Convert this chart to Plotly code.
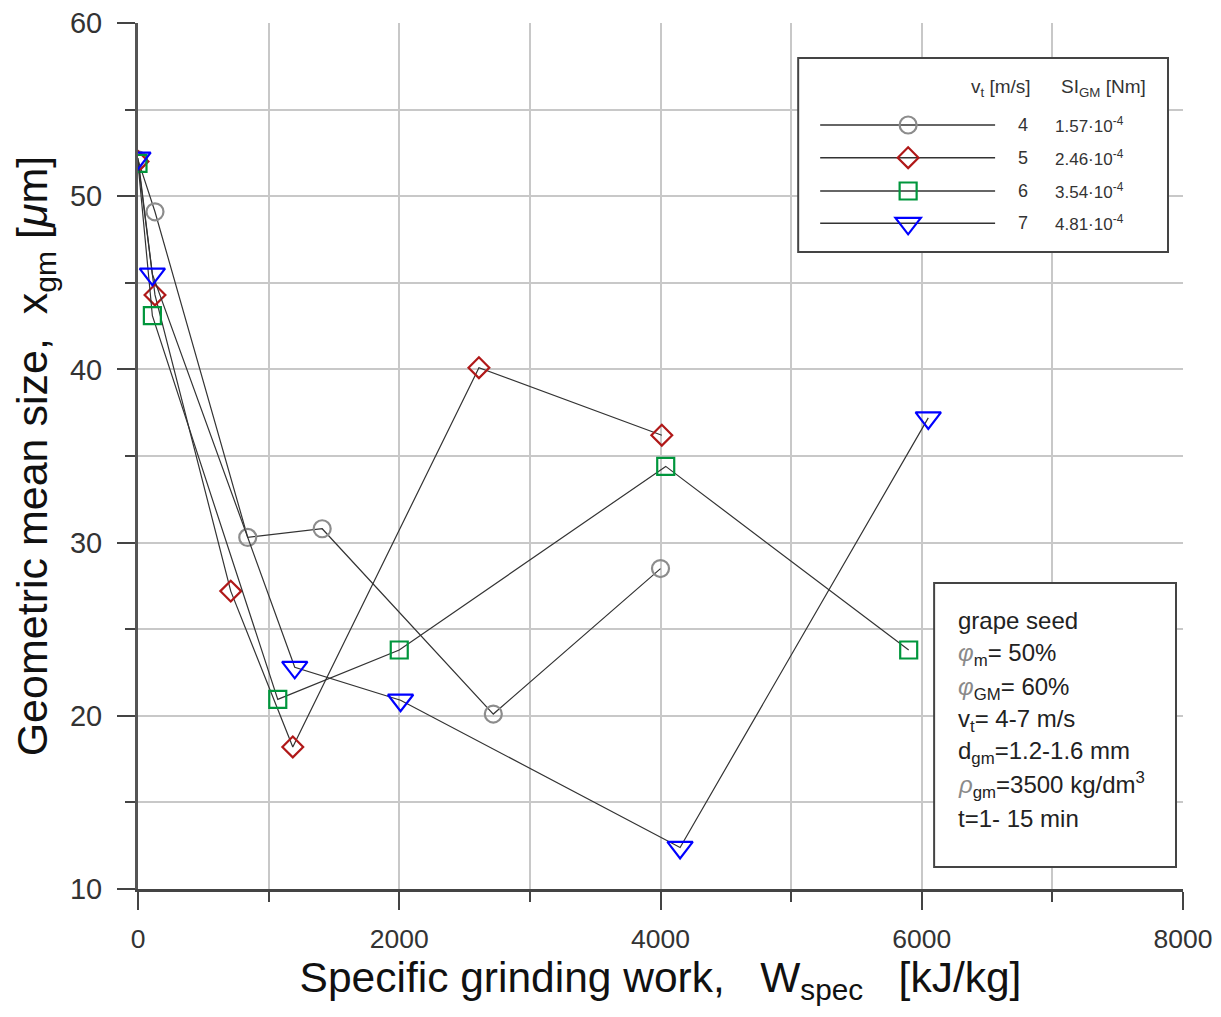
import plotly.graph_objects as go

# ---------------- data ----------------
speeds = ["4", "5", "6", "7"]
si_labels = ["1.57·10<sup>-4</sup>", "2.46·10<sup>-4</sup>", "3.54·10<sup>-4</sup>", "4.81·10<sup>-4</sup>"]

w_v4 = [0, 130, 840, 1410, 2720, 4000]
x_v4 = [52.1, 49.1, 30.3, 30.8, 20.1, 28.5]

w_v5 = [0, 130, 710, 1185, 2610, 4010]
x_v5 = [52.0, 44.3, 27.2, 18.2, 40.1, 36.2]

w_v6 = [0, 110, 1070, 2000, 4040, 5900]
x_v6 = [51.9, 43.1, 20.95, 23.8, 34.4, 23.8]

w_v7 = [0, 110, 1200, 2010, 4150, 6050]
x_v7 = [52.2, 45.5, 22.8, 20.9, 12.4, 37.2]

x_ticks = [0, 2000, 4000, 6000, 8000]
y_ticks = [10, 20, 30, 40, 50, 60]

# ---------------- styles ----------------
colors = ["#8c8c8c", "#b01818", "#00963c", "#0000ff"]
symbols = ["circle-open", "diamond-open", "square-open", "triangle-down-open"]
sizes = [17, 16, 17, 22]
series_w = [w_v4, w_v5, w_v6, w_v7]
series_x = [x_v4, x_v5, x_v6, x_v7]

LINE_COL = "#333333"
FONT = "Liberation Sans, Arial, sans-serif"

# page offset (browser body margin) compensation
OFF = 8
W, H = 1221 - 2 * OFF, 1017 - 2 * OFF
# plot area in window pixels
L, R, T, B = 137.5, 1183, 23, 889
PW, PH = R - L, B - T


def fx(px):
    return (px - L) / PW


def fy(py):
    return (B - py) / PH


fig = go.Figure()

for wx, xy, sym, col, sz in zip(series_w, series_x, symbols, colors, sizes):
    fig.add_trace(go.Scatter(
        x=wx, y=xy, mode="lines+markers",
        line=dict(color=LINE_COL, width=1.2),
        marker=dict(symbol=sym, size=sz, color=col, line=dict(color=col, width=2.2)),
        showlegend=False, hoverinfo="skip",
    ))

# ---------------- boxes ----------------
shapes = [
    dict(type="rect", xref="paper", yref="paper",
         x0=fx(798), x1=fx(1168), y0=fy(252), y1=fy(58),
         line=dict(color="#444444", width=2), fillcolor="white", layer="above"),
    dict(type="rect", xref="paper", yref="paper",
         x0=fx(934), x1=fx(1176), y0=fy(867), y1=fy(583),
         line=dict(color="#444444", width=2), fillcolor="white", layer="above"),
]

# ---------------- legend samples (custom) ----------------
row_y = [125, 157.7, 191, 223.3]
mx = 908
marker_paths = [
    None,
    "M10.4,0 L0,10.4 L-10.4,0 L0,-10.4 Z",
    "M-8.5,-8.5 L8.5,-8.5 L8.5,8.5 L-8.5,8.5 Z",
    "M-12.7,5.5 L12.7,5.5 L0,-11 Z",
]
for i in range(4):
    yy = fy(row_y[i])
    shapes.append(dict(type="line", xref="paper", yref="paper",
                       x0=fx(820), x1=fx(995), y0=yy, y1=yy,
                       line=dict(color=LINE_COL, width=1.6), layer="above"))
for i in range(4):
    yy = fy(row_y[i])
    if marker_paths[i] is None:
        shapes.append(dict(type="circle", xref="paper", yref="paper",
                           xsizemode="pixel", ysizemode="pixel",
                           xanchor=fx(mx), yanchor=yy,
                           x0=-8.5, x1=8.5, y0=-8.5, y1=8.5,
                           line=dict(color=colors[i], width=2.2), fillcolor="rgba(0,0,0,0)",
                           layer="above"))
    else:
        shapes.append(dict(type="path", xref="paper", yref="paper",
                           xsizemode="pixel", ysizemode="pixel",
                           xanchor=fx(mx), yanchor=yy,
                           path=marker_paths[i],
                           line=dict(color=colors[i], width=2.2), fillcolor="rgba(0,0,0,0)",
                           layer="above"))

annotations = []
annotations.append(dict(xref="paper", yref="paper", x=fx(1001), y=fy(88),
                        text="v<sub>t</sub> [m/s]", showarrow=False, xanchor="center", yanchor="middle",
                        font=dict(family=FONT, size=19, color="#333")))
annotations.append(dict(xref="paper", yref="paper", x=fx(1103), y=fy(88),
                        text="SI<sub>GM</sub> [Nm]", showarrow=False, xanchor="center", yanchor="middle",
                        font=dict(family=FONT, size=19, color="#333")))
for i in range(4):
    annotations.append(dict(xref="paper", yref="paper", x=fx(1023), y=fy(row_y[i]),
                            text=speeds[i], showarrow=False, xanchor="center", yanchor="middle",
                            font=dict(family=FONT, size=18, color="#333")))
    annotations.append(dict(xref="paper", yref="paper", x=fx(1053), y=fy(row_y[i]),
                            text=si_labels[i], showarrow=False, xanchor="left", yanchor="middle",
                            font=dict(family=FONT, size=17, color="#333")))

# ---------------- info box ----------------
PHI = "<span style='color:#8a8a8a'><i>φ</i></span>"
RHO = "<span style='color:#8a8a8a'><i>ρ</i></span>"
info_lines = [
    "grape seed",
    PHI + "<sub>m</sub>= 50%",
    PHI + "<sub>GM</sub>= 60%",
    "v<sub>t</sub>= 4-7 m/s",
    "d<sub>gm</sub>=1.2-1.6 mm",
    RHO + "<sub>gm</sub>=3500 kg/dm<sup>3</sup>",
    "t=1- 15 min",
]
info_y = [620, 655, 688, 720, 752, 785, 818]
for txt, py in zip(info_lines, info_y):
    annotations.append(dict(xref="paper", yref="paper", x=fx(956), y=fy(py),
                            text=txt, showarrow=False, xanchor="left", yanchor="middle",
                            font=dict(family=FONT, size=24, color="#222")))

fig.update_layout(
    width=W, height=H,
    margin=dict(l=L - OFF, r=(W + OFF) - R, t=T - OFF, b=(H + OFF) - B, pad=0, autoexpand=False),
    paper_bgcolor="white", plot_bgcolor="white",
    shapes=shapes, annotations=annotations,
    xaxis=dict(
        range=[0, 8000], tickvals=x_ticks, ticktext=[str(v) for v in x_ticks],
        automargin=False,
        showgrid=True, gridcolor="#c8c8c8", gridwidth=1.5,
        ticks="outside", ticklen=18, tickwidth=1.5, tickcolor="#444",
        minor=dict(dtick=1000, tick0=0, ticks="outside", ticklen=10, tickwidth=1.5, tickcolor="#444",
                   showgrid=True, gridcolor="#c8c8c8", gridwidth=1.5),
        showline=True, linecolor="#444", linewidth=2.5, zeroline=False,
        tickfont=dict(family=FONT, size=26.5, color="#333"),
        ticklabelstandoff=6,
        ticklabeloverflow="allow",
        title=dict(text="Specific grinding work,\u00a0\u00a0\u00a0W<sub>spec</sub>\u00a0\u00a0\u00a0[kJ/kg]",
                   font=dict(family=FONT, size=42.5, color="#111"), standoff=6),
    ),
    yaxis=dict(
        range=[10, 60], tickvals=y_ticks, ticktext=[str(v) for v in y_ticks],
        automargin=False,
        showgrid=True, gridcolor="#c8c8c8", gridwidth=1.5,
        ticks="outside", ticklen=18, tickwidth=1.5, tickcolor="#444",
        minor=dict(dtick=5, tick0=0, ticks="outside", ticklen=10, tickwidth=1.5, tickcolor="#444",
                   showgrid=True, gridcolor="#c8c8c8", gridwidth=1.5),
        showline=True, linecolor="#555", linewidth=3, zeroline=False,
        tickfont=dict(family=FONT, size=29, color="#333"),
        ticklabelstandoff=9,
        ticklabeloverflow="allow",
        title=dict(text="Geometric mean size,\u00a0\u00a0x<sub>gm</sub> [<i>μ</i>m]",
                   font=dict(family=FONT, size=43, color="#111"), standoff=14),
    ),
)

fig.write_html("out.html")
